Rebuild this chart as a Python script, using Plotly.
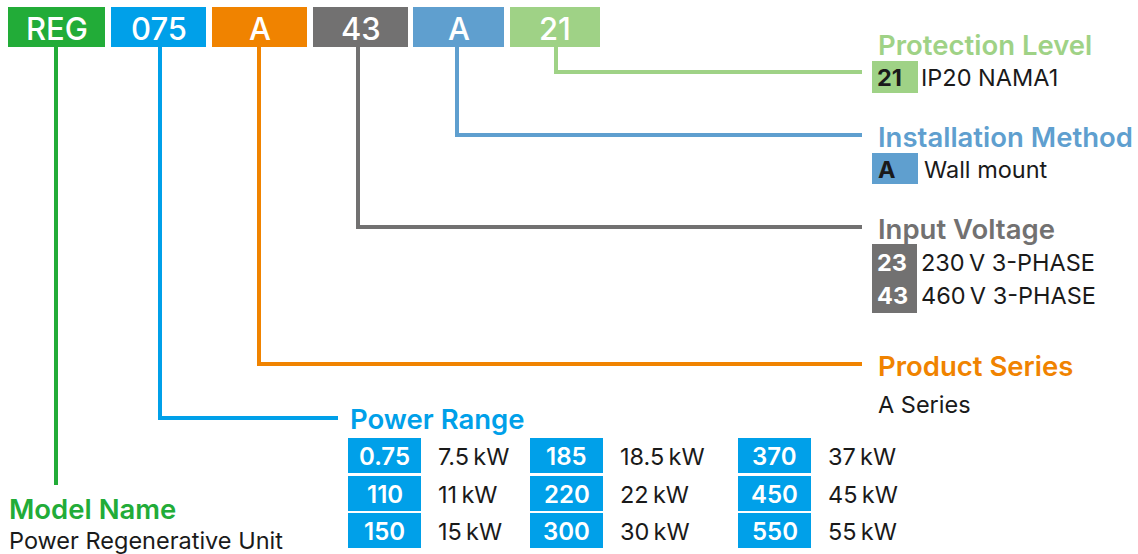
import plotly.graph_objects as go

# ---------------- data ----------------
segment_codes = ["REG", "075", "A", "43", "A", "21"]
segment_colors = ["#22ac38", "#00a0e9", "#f08300", "#727171", "#5f9fcf", "#9fd286"]

section_titles = ["Model Name", "Power Range", "Product Series",
                  "Input Voltage", "Installation Method", "Protection Level"]

model_desc = "Power Regenerative Unit"
series_desc = "A Series"
voltage_codes = ["23", "43"]
voltage_desc = ["230\u2009V 3-PHASE", "460\u2009V 3-PHASE"]
install_code = "A"
install_desc = "Wall mount"
protect_code = "21"
protect_desc = "IP20 NAMA1"

power_codes = [["0.75", "110", "150"], ["185", "220", "300"], ["370", "450", "550"]]
power_desc = [["7.5\u2009kW", "11\u2009kW", "15\u2009kW"],
              ["18.5\u2009kW", "22\u2009kW", "30\u2009kW"],
              ["37\u2009kW", "45\u2009kW", "55\u2009kW"]]

# ---------------- layout geometry ----------------
W, H = 1138, 554
FONT = "Inter"
BLACK = "#1a1a1a"
LW = 4
BODY = 23.5
TITLE = 27.5

box_x = [(8, 105), (111, 206), (212, 307), (313, 408), (413, 504), (510, 600)]
box_y = (7, 47)
conn_x = [56, 160, 259, 358, 457, 556]

shapes = []
ann = []

def text(x, y, s, color=BLACK, size=BODY, weight=400, xanchor="left"):
    ann.append(dict(x=x, y=y, xref="x", yref="y", text=s, showarrow=False,
                    xanchor=xanchor, yanchor="middle",
                    font=dict(family=FONT, size=size, color=color, weight=weight)))

def rect(x0, y0, x1, y1, color):
    shapes.append(dict(type="rect", xref="x", yref="y", x0=x0, y0=y0, x1=x1, y1=y1,
                       fillcolor=color, line=dict(width=0), layer="below"))

def path(points, color):
    d = "M " + " L ".join(f"{px},{py}" for px, py in points)
    shapes.append(dict(type="path", xref="x", yref="y", path=d,
                       line=dict(color=color, width=LW), layer="below"))

# top code boxes
for (x0, x1), code, col in zip(box_x, segment_codes, segment_colors):
    rect(x0, box_y[0], x1, box_y[1], col)
    text((x0 + x1) / 2, 28, code, color="white", size=31, weight=500, xanchor="center")

# connector lines
path([(conn_x[0], 47), (conn_x[0], 485)], segment_colors[0])
path([(conn_x[1], 47), (conn_x[1], 418), (338, 418)], segment_colors[1])
path([(conn_x[2], 47), (conn_x[2], 364), (862, 364)], segment_colors[2])
path([(conn_x[3], 47), (conn_x[3], 227), (862, 227)], segment_colors[3])
path([(conn_x[4], 47), (conn_x[4], 135), (862, 135)], segment_colors[4])
path([(conn_x[5], 47), (conn_x[5], 72), (862, 72)], segment_colors[5])

# section titles
title_pos = [(7, 509), (348, 419), (876, 366), (876, 229), (876, 137), (876, 45)]
for (tx, ty), t, col in zip(title_pos, section_titles, segment_colors):
    text(tx, ty, t, color=col, size=TITLE, weight=600)

# model name description
text(7, 540, model_desc)

# product series description
text(876, 404, series_desc)

# protection level
rect(872, 61, 918, 93, segment_colors[5])
text(875, 77, protect_code, weight=700)
text(919, 77, protect_desc)

# installation method
rect(872, 153, 918, 184, segment_colors[4])
text(876, 169, install_code, weight=700)
text(922, 169, install_desc)

# input voltage
rect(872, 244, 917, 313, segment_colors[3])
for i, (c, d) in enumerate(zip(voltage_codes, voltage_desc)):
    yc = 262 + i * 33
    text(875, yc, c, color="white", weight=700)
    text(919, yc, d)

# power range grid
col_x = [348, 530, 738]
row_y = [438, 476, 513]
bw, bh = 73, 35
for ci, cx in enumerate(col_x):
    for ri, ry in enumerate(row_y):
        rect(cx, ry, cx + bw, ry + bh, segment_colors[1])
        text(cx + bw / 2, ry + bh / 2 + 1, power_codes[ci][ri], color="white",
             size=24, weight=600, xanchor="center")
        text(cx + 88, ry + bh / 2 + 1, power_desc[ci][ri])

fig = go.Figure()
fig.update_layout(
    width=W, height=H,
    margin=dict(l=0, r=0, t=0, b=0),
    paper_bgcolor="white", plot_bgcolor="white",
    xaxis=dict(range=[0, W], visible=False, fixedrange=True),
    yaxis=dict(range=[H, 0], visible=False, fixedrange=True),
    shapes=shapes, annotations=ann, showlegend=False,
)
fig.write_html("out.html", config={"displayModeBar": False},
               post_script="document.body.style.margin='0px';document.body.style.overflow='hidden';")
